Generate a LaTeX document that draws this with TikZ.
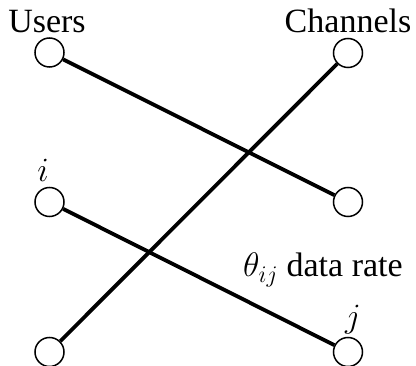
\RequirePackage{fix-cm}
\documentclass[tikz,border=0pt]{standalone}
\usepackage{fontspec}
\setmainfont{Liberation Serif}
\newfontfamily\tms{Liberation Serif}
\begin{document}
\begin{tikzpicture}[x=1pt,y=-1pt,
  vert/.style={circle,draw,line width=1.5pt,minimum size=29pt,inner sep=0pt},
  edge/.style={line width=3.8pt},
  lbl/.style={inner sep=0pt,font=\tms\fontsize{34}{40}\selectfont}]
\useasboundingbox (0,0) rectangle (416,366);
\node[vert] (u1) at (49.5,52.5) {};
\node[vert] (u2) at (49.5,202) {};
\node[vert] (u3) at (49.5,352) {};
\node[vert] (c1) at (348,53) {};
\node[vert] (c2) at (348,202) {};
\node[vert] (c3) at (348,352) {};
\draw[edge] (u1) -- (c2);
\draw[edge] (u3) -- (c1);
\draw[edge] (u2) -- (c3);
\node[lbl,anchor=base] (tu) at (47,33) {Users};
\node[lbl,anchor=base] (tc) at (348,33) {Channels};
\node[lbl,anchor=base] (ti) at (43,182) {$i$};
\node[lbl,anchor=base] (tj) at (353,328) {$j$};
\node[lbl,anchor=base west] (tr) at (243,277) {$\theta_{ij}$ data rate};
\end{tikzpicture}
\end{document}
